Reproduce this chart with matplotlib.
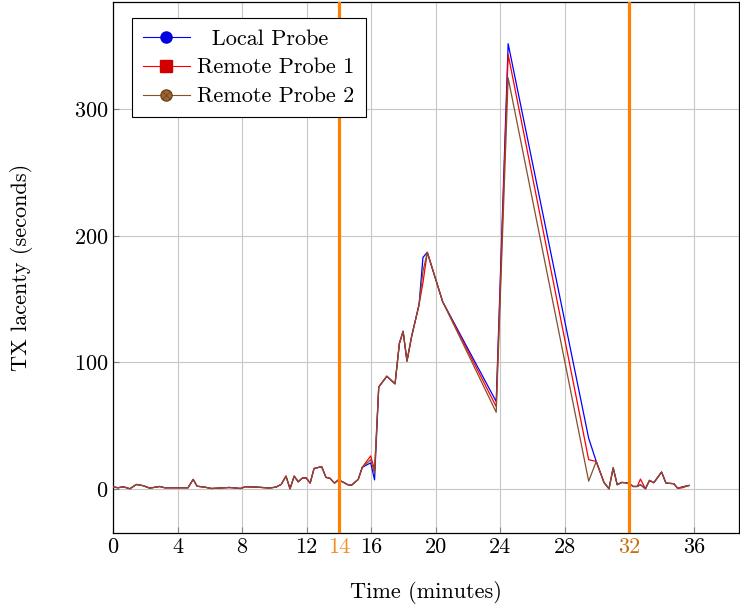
import matplotlib.pyplot as plt
from matplotlib.lines import Line2D

plt.rcParams['font.family'] = ['cmr10', 'DejaVu Serif']
plt.rcParams['mathtext.fontset'] = 'cm'
plt.rcParams['axes.formatter.use_mathtext'] = True

# time in minutes
t = [0.0, 0.3, 0.65, 1.05, 1.45, 1.88, 2.27, 2.9, 3.2, 4.65, 4.97, 5.21, 5.68, 6.1,
     7.2, 7.45, 7.9, 8.2, 8.9, 9.7, 10.1, 10.43, 10.72, 10.97, 11.23, 11.48, 11.74,
     11.98, 12.22, 12.46, 12.93, 13.2, 13.44, 13.73, 13.97, 14.3, 14.55, 14.78, 15.2,
     15.45, 15.97, 16.21, 16.47, 16.97, 17.48, 17.75, 17.98, 18.22, 18.51, 18.97,
     19.21, 19.48, 20.43, 23.75, 24.49, 29.48, 29.95, 30.43, 30.74, 31.0, 31.25,
     31.53, 31.95, 32.24, 32.49, 32.69, 33.0, 33.25, 33.52, 34.0, 34.27, 34.76, 35.0,
     35.29, 35.7]

local_probe = [1.5, 0.8, 1.5, 0.0, 3.4, 2.4, 0.5, 1.8, 0.8, 0.8, 7.4, 2.0, 1.3, 0.2,
               1.0, 0.8, 0.2, 1.6, 1.3, 0.6, 1.3, 3.5, 10.0, 0.0, 10.0, 5.5, 8.5,
               8.5, 4.5, 16.0, 17.5, 9.0, 8.3, 4.5, 7.0, 5.0, 3.2, 2.8, 7.4,
               17.0, 20.5, 7.0, 80.5, 89.0, 83.0, 115.0, 124.5, 101.0, 120.6, 145.7,
               183.0, 187.0, 148.0, 69.0, 352.0, 40.0, 21.6, 5.0, 0.0, 16.5, 3.2,
               5.0, 4.5, 1.8, 1.8, 3.2, 0.0, 6.6, 4.8, 13.2, 4.5, 4.0, 0.3,
               1.5, 2.6]

remote_probe_1 = [1.5, 0.8, 1.5, 0.0, 3.4, 2.4, 0.5, 1.8, 0.8, 0.8, 7.4, 2.0, 1.3, 0.2,
                  1.0, 0.8, 0.2, 1.6, 1.3, 0.6, 1.3, 3.5, 10.0, 0.0, 10.0, 5.5, 8.5,
                  8.5, 4.5, 16.0, 17.5, 9.0, 8.3, 4.5, 7.0, 5.0, 3.2, 2.8, 7.4,
                  17.0, 26.0, 15.0, 80.5, 89.0, 83.0, 115.0, 124.5, 101.0, 120.6, 145.7,
                  163.0, 187.0, 148.0, 65.0, 343.5, 23.0, 21.6, 5.0, 0.0, 16.5, 3.2,
                  5.0, 4.5, 1.8, 1.8, 7.7, 0.0, 6.6, 4.8, 13.2, 4.5, 4.0, 0.3,
                  0.8, 2.6]

remote_probe_2 = [1.5, 0.8, 1.5, 0.0, 3.4, 2.4, 0.5, 1.8, 0.8, 0.8, 7.4, 2.0, 1.3, 0.2,
                  1.0, 0.8, 0.2, 1.6, 1.3, 0.6, 1.3, 3.5, 10.0, 0.0, 10.0, 5.5, 8.5,
                  8.5, 4.5, 16.0, 17.5, 9.0, 8.3, 4.5, 7.0, 5.0, 3.2, 2.8, 7.4,
                  17.0, 23.0, 12.0, 80.5, 89.0, 83.0, 115.0, 124.5, 101.0, 120.6, 145.7,
                  172.0, 187.0, 148.0, 60.5, 325.0, 6.0, 21.6, 5.0, 0.0, 16.5, 3.2,
                  5.0, 4.5, 1.8, 1.8, 3.2, 0.0, 6.6, 4.8, 13.2, 4.5, 4.0, 0.3,
                  1.5, 2.6]

x_ticks = [0, 4, 8, 12, 14, 16, 20, 24, 28, 32, 36]
y_ticks = [0, 100, 200, 300]
events = [14, 32]
event_label_colors = {14: '#f0902a', 32: '#c8700f'}

blue = '#0000ff'
red = '#ff0000'
brown = '#85502c'
orange = '#ff8000'
fs = 16

fig = plt.figure(figsize=(7.4, 6.07), dpi=100)
ax = fig.add_axes([0.1527, 0.1219, 0.8460, 0.8748])

ax.plot(t, local_probe, color=blue, lw=0.9, zorder=3)
ax.plot(t, remote_probe_1, color=red, lw=0.9, zorder=4)
ax.plot(t, remote_probe_2, color=brown, lw=0.9, zorder=5)

for e in events:
    ax.axvline(e, color=orange, lw=2.3, zorder=6)

ax.set_xlim(0, 38.8)
ax.set_ylim(-35, 385)
ax.set_xticks(x_ticks)
ax.set_xticklabels([str(v) for v in x_ticks])
ax.set_yticks(y_ticks)
ax.grid(True, color='#c8c8c8', lw=0.8)
ax.set_axisbelow(True)
ax.tick_params(direction='in', length=4, color='#808080', labelsize=fs,
               top=False, right=False)
for sp in ax.spines.values():
    sp.set_linewidth(0.9)

for v, lbl in zip(x_ticks, ax.get_xticklabels()):
    if v in event_label_colors:
        lbl.set_color(event_label_colors[v])

ax.set_xlabel('Time (minutes)', fontsize=fs, labelpad=17)
ax.set_ylabel('TX lacenty (seconds)', fontsize=fs, labelpad=29)

h1 = Line2D([], [], color=blue, lw=0.8, marker='o', markersize=8,
            markerfacecolor='#0000e0', markeredgecolor='#0000e0')
h2 = Line2D([], [], color=red, lw=0.8, marker='s', markersize=8,
            markerfacecolor='#d00000', markeredgecolor='#d00000')
h3a = Line2D([], [], color=brown, lw=0.8, marker='o', markersize=8,
             markerfacecolor='#a0652f', markeredgecolor='#6b4420')
h3b = Line2D([], [], color=brown, lw=0, marker='x', markersize=5.5,
             markeredgecolor='#6b4420', markeredgewidth=0.6)
leg = ax.legend([h1, h2, (h3a, h3b)],
                ['  Local Probe', 'Remote Probe 1', 'Remote Probe 2'],
                loc='upper left', bbox_to_anchor=(0.030, 0.970), fontsize=fs,
                fancybox=False, edgecolor='black', framealpha=1,
                handlelength=2.1, borderpad=0.5, labelspacing=0.42,
                handletextpad=0.35, borderaxespad=0)
leg.get_frame().set_linewidth(0.8)
leg.set_zorder(10)

fig.savefig('out.png', dpi=100)
